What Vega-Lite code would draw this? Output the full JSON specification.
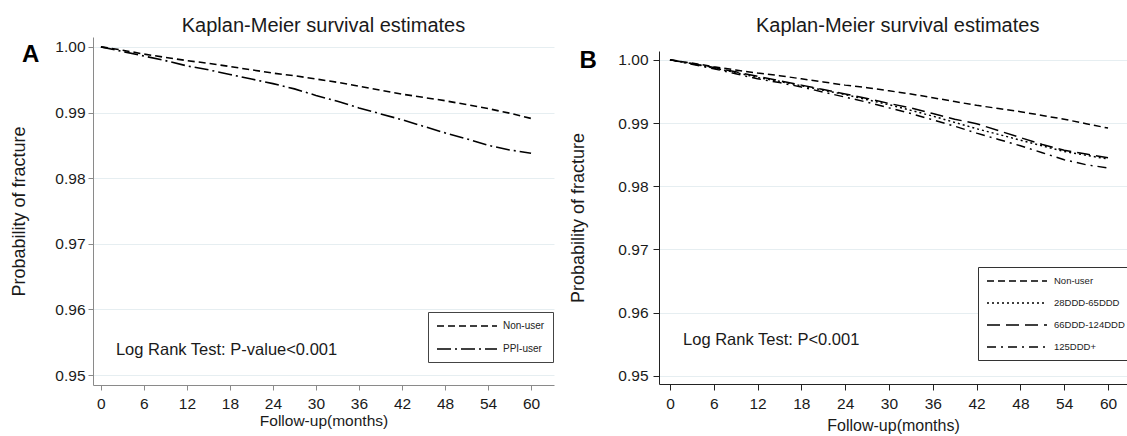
{
  "$schema": "https://vega.github.io/schema/vega-lite/v6.json",
  "padding": {"left": 10, "top": 16, "right": 0, "bottom": 0},
  "autosize": {"type": "pad"},
  "background": "white",
  "config": {
    "view": {"stroke": null},
    "font": "Liberation Sans",
    "axis": {"labelFont": "Liberation Sans", "titleFont": "Liberation Sans", "labelColor": "#1a1a1a", "titleColor": "#1a1a1a", "titleFontWeight": "normal"},
    "title": {"font": "Liberation Sans", "fontWeight": "normal", "color": "#1a1a1a", "fontSize": 20},
    "legend": {"labelFont": "Liberation Sans"}
  },
  "datasets": {
    "a": [
      {"month": 0, "p": 1.0000, "group": "Non-user"},
      {"month": 3, "p": 0.9995, "group": "Non-user"},
      {"month": 6, "p": 0.9989, "group": "Non-user"},
      {"month": 9, "p": 0.9984, "group": "Non-user"},
      {"month": 12, "p": 0.9979, "group": "Non-user"},
      {"month": 15, "p": 0.9975, "group": "Non-user"},
      {"month": 18, "p": 0.9970, "group": "Non-user"},
      {"month": 21, "p": 0.9965, "group": "Non-user"},
      {"month": 24, "p": 0.9960, "group": "Non-user"},
      {"month": 27, "p": 0.9956, "group": "Non-user"},
      {"month": 30, "p": 0.9951, "group": "Non-user"},
      {"month": 33, "p": 0.9946, "group": "Non-user"},
      {"month": 36, "p": 0.9940, "group": "Non-user"},
      {"month": 39, "p": 0.9934, "group": "Non-user"},
      {"month": 42, "p": 0.9928, "group": "Non-user"},
      {"month": 45, "p": 0.9923, "group": "Non-user"},
      {"month": 48, "p": 0.9918, "group": "Non-user"},
      {"month": 51, "p": 0.9912, "group": "Non-user"},
      {"month": 54, "p": 0.9906, "group": "Non-user"},
      {"month": 57, "p": 0.9899, "group": "Non-user"},
      {"month": 60, "p": 0.9891, "group": "Non-user"},
      {"month": 0, "p": 1.0000, "group": "PPI-user"},
      {"month": 3, "p": 0.9993, "group": "PPI-user"},
      {"month": 6, "p": 0.9986, "group": "PPI-user"},
      {"month": 9, "p": 0.9979, "group": "PPI-user"},
      {"month": 12, "p": 0.9971, "group": "PPI-user"},
      {"month": 15, "p": 0.9965, "group": "PPI-user"},
      {"month": 18, "p": 0.9958, "group": "PPI-user"},
      {"month": 21, "p": 0.9951, "group": "PPI-user"},
      {"month": 24, "p": 0.9944, "group": "PPI-user"},
      {"month": 27, "p": 0.9936, "group": "PPI-user"},
      {"month": 30, "p": 0.9926, "group": "PPI-user"},
      {"month": 33, "p": 0.9917, "group": "PPI-user"},
      {"month": 36, "p": 0.9907, "group": "PPI-user"},
      {"month": 39, "p": 0.9898, "group": "PPI-user"},
      {"month": 42, "p": 0.9889, "group": "PPI-user"},
      {"month": 45, "p": 0.9879, "group": "PPI-user"},
      {"month": 48, "p": 0.9869, "group": "PPI-user"},
      {"month": 51, "p": 0.9860, "group": "PPI-user"},
      {"month": 54, "p": 0.9850, "group": "PPI-user"},
      {"month": 57, "p": 0.9843, "group": "PPI-user"},
      {"month": 60, "p": 0.9838, "group": "PPI-user"}
    ],
    "b": [
      {"month": 0, "p": 1.0000, "group": "Non-user"},
      {"month": 3, "p": 0.9995, "group": "Non-user"},
      {"month": 6, "p": 0.9989, "group": "Non-user"},
      {"month": 9, "p": 0.9984, "group": "Non-user"},
      {"month": 12, "p": 0.9979, "group": "Non-user"},
      {"month": 15, "p": 0.9975, "group": "Non-user"},
      {"month": 18, "p": 0.9970, "group": "Non-user"},
      {"month": 21, "p": 0.9965, "group": "Non-user"},
      {"month": 24, "p": 0.9960, "group": "Non-user"},
      {"month": 27, "p": 0.9956, "group": "Non-user"},
      {"month": 30, "p": 0.9951, "group": "Non-user"},
      {"month": 33, "p": 0.9946, "group": "Non-user"},
      {"month": 36, "p": 0.9940, "group": "Non-user"},
      {"month": 39, "p": 0.9934, "group": "Non-user"},
      {"month": 42, "p": 0.9928, "group": "Non-user"},
      {"month": 45, "p": 0.9923, "group": "Non-user"},
      {"month": 48, "p": 0.9918, "group": "Non-user"},
      {"month": 51, "p": 0.9912, "group": "Non-user"},
      {"month": 54, "p": 0.9906, "group": "Non-user"},
      {"month": 57, "p": 0.9899, "group": "Non-user"},
      {"month": 60, "p": 0.9892, "group": "Non-user"},
      {"month": 0, "p": 1.0000, "group": "28DDD-65DDD"},
      {"month": 3, "p": 0.9994, "group": "28DDD-65DDD"},
      {"month": 6, "p": 0.9987, "group": "28DDD-65DDD"},
      {"month": 9, "p": 0.9980, "group": "28DDD-65DDD"},
      {"month": 12, "p": 0.9972, "group": "28DDD-65DDD"},
      {"month": 15, "p": 0.9966, "group": "28DDD-65DDD"},
      {"month": 18, "p": 0.9959, "group": "28DDD-65DDD"},
      {"month": 21, "p": 0.9952, "group": "28DDD-65DDD"},
      {"month": 24, "p": 0.9945, "group": "28DDD-65DDD"},
      {"month": 27, "p": 0.9937, "group": "28DDD-65DDD"},
      {"month": 30, "p": 0.9929, "group": "28DDD-65DDD"},
      {"month": 33, "p": 0.9920, "group": "28DDD-65DDD"},
      {"month": 36, "p": 0.9911, "group": "28DDD-65DDD"},
      {"month": 39, "p": 0.9901, "group": "28DDD-65DDD"},
      {"month": 42, "p": 0.9891, "group": "28DDD-65DDD"},
      {"month": 45, "p": 0.9882, "group": "28DDD-65DDD"},
      {"month": 48, "p": 0.9873, "group": "28DDD-65DDD"},
      {"month": 51, "p": 0.9864, "group": "28DDD-65DDD"},
      {"month": 54, "p": 0.9855, "group": "28DDD-65DDD"},
      {"month": 57, "p": 0.9849, "group": "28DDD-65DDD"},
      {"month": 60, "p": 0.9843, "group": "28DDD-65DDD"},
      {"month": 0, "p": 1.0000, "group": "66DDD-124DDD"},
      {"month": 3, "p": 0.9994, "group": "66DDD-124DDD"},
      {"month": 6, "p": 0.9988, "group": "66DDD-124DDD"},
      {"month": 9, "p": 0.9981, "group": "66DDD-124DDD"},
      {"month": 12, "p": 0.9974, "group": "66DDD-124DDD"},
      {"month": 15, "p": 0.9967, "group": "66DDD-124DDD"},
      {"month": 18, "p": 0.9960, "group": "66DDD-124DDD"},
      {"month": 21, "p": 0.9953, "group": "66DDD-124DDD"},
      {"month": 24, "p": 0.9946, "group": "66DDD-124DDD"},
      {"month": 27, "p": 0.9939, "group": "66DDD-124DDD"},
      {"month": 30, "p": 0.9931, "group": "66DDD-124DDD"},
      {"month": 33, "p": 0.9924, "group": "66DDD-124DDD"},
      {"month": 36, "p": 0.9915, "group": "66DDD-124DDD"},
      {"month": 39, "p": 0.9906, "group": "66DDD-124DDD"},
      {"month": 42, "p": 0.9899, "group": "66DDD-124DDD"},
      {"month": 45, "p": 0.9888, "group": "66DDD-124DDD"},
      {"month": 48, "p": 0.9877, "group": "66DDD-124DDD"},
      {"month": 51, "p": 0.9866, "group": "66DDD-124DDD"},
      {"month": 54, "p": 0.9857, "group": "66DDD-124DDD"},
      {"month": 57, "p": 0.9851, "group": "66DDD-124DDD"},
      {"month": 60, "p": 0.9845, "group": "66DDD-124DDD"},
      {"month": 0, "p": 1.0000, "group": "125DDD+"},
      {"month": 3, "p": 0.9993, "group": "125DDD+"},
      {"month": 6, "p": 0.9986, "group": "125DDD+"},
      {"month": 9, "p": 0.9978, "group": "125DDD+"},
      {"month": 12, "p": 0.9970, "group": "125DDD+"},
      {"month": 15, "p": 0.9964, "group": "125DDD+"},
      {"month": 18, "p": 0.9957, "group": "125DDD+"},
      {"month": 21, "p": 0.9949, "group": "125DDD+"},
      {"month": 24, "p": 0.9941, "group": "125DDD+"},
      {"month": 27, "p": 0.9933, "group": "125DDD+"},
      {"month": 30, "p": 0.9924, "group": "125DDD+"},
      {"month": 33, "p": 0.9915, "group": "125DDD+"},
      {"month": 36, "p": 0.9905, "group": "125DDD+"},
      {"month": 39, "p": 0.9895, "group": "125DDD+"},
      {"month": 42, "p": 0.9884, "group": "125DDD+"},
      {"month": 45, "p": 0.9874, "group": "125DDD+"},
      {"month": 48, "p": 0.9864, "group": "125DDD+"},
      {"month": 51, "p": 0.9853, "group": "125DDD+"},
      {"month": 54, "p": 0.9842, "group": "125DDD+"},
      {"month": 57, "p": 0.9834, "group": "125DDD+"},
      {"month": 60, "p": 0.9829, "group": "125DDD+"}
    ]
  },
  "spacing": 15,
  "resolve": {"scale": {"strokeDash": "independent", "x": "independent", "y": "independent"}, "legend": {"strokeDash": "independent"}},
  "hconcat": [
    {
      "width": 461,
      "height": 348,
      "title": {"text": "Kaplan-Meier survival estimates", "offset": 1, "anchor": "middle"},
      "layer": [
        {
          "data": {"name": "a"},
          "mark": {"type": "line", "color": "black", "strokeWidth": 1.6},
          "encoding": {
            "x": {"field": "month", "type": "quantitative",
              "scale": {"domain": [-1.1, 63.2], "nice": false, "zero": false},
              "axis": {"values": [0, 6, 12, 18, 24, 30, 36, 42, 48, 54, 60], "title": "Follow-up(months)", "grid": false,
                "domainColor": "#8a8a8a", "tickColor": "#8a8a8a", "tickSize": 5, "labelFontSize": 15.5, "labelPadding": 6,
                "titleFontSize": 15.5, "titlePadding": 2}},
            "y": {"field": "p", "type": "quantitative",
              "scale": {"domain": [0.9485, 1.0015], "nice": false, "zero": false},
              "axis": {"values": [0.95, 0.96, 0.97, 0.98, 0.99, 1.0], "format": ".2f", "title": "Probability of fracture",
                "grid": true, "gridColor": "#e6eef1", "gridWidth": 1, "domainColor": "#8a8a8a", "tickColor": "#8a8a8a", "tickSize": 5,
                "labelFontSize": 15.5, "labelPadding": 3, "titleFontSize": 18, "titlePadding": 26}},
            "strokeDash": {"field": "group", "type": "nominal",
              "scale": {"domain": ["Non-user", "PPI-user"], "range": [[7, 4], [14, 4, 2, 4]]},
              "legend": {"title": null, "orient": "none", "legendX": 335, "legendY": 275, "direction": "vertical",
                "symbolType": "M-1,0H11", "symbolSize": 100, "symbolStrokeWidth": 1.6, "symbolStrokeColor": "black",
                "labelFontSize": 10, "labelColor": "#222", "labelOffset": 55, "padding": 8, "rowPadding": 12,
                "strokeColor": "#444", "fillColor": "white"}}
          }
        },
        {
          "data": {"values": [{}]},
          "mark": {"type": "text", "align": "left", "baseline": "middle", "fontSize": 16.5, "color": "#1a1a1a", "text": "Log Rank Test: P-value<0.001"},
          "encoding": {"x": {"datum": 2.1, "type": "quantitative"}, "y": {"datum": 0.9538, "type": "quantitative"}}
        },
        {
          "data": {"values": [{}]},
          "mark": {"type": "text", "align": "center", "baseline": "middle", "fontSize": 24, "fontWeight": "bold", "color": "black", "text": "A"},
          "encoding": {"x": {"datum": -9.8, "type": "quantitative"}, "y": {"datum": 0.9988, "type": "quantitative"}}
        }
      ]
    },
    {
      "title": {"text": "Kaplan-Meier survival estimates", "offset": 1, "anchor": "middle", "dx": 46},
      "spacing": 0,
      "vconcat": [
        {
          "width": 468,
          "height": 12,
          "data": {"values": []},
          "mark": {"type": "rule", "opacity": 0},
          "encoding": {}
        },
        {
          "width": 468,
          "height": 333,
          "layer": [
            {
              "data": {"name": "b"},
              "mark": {"type": "line", "color": "black", "strokeWidth": 1.5},
              "encoding": {
                "x": {"field": "month", "type": "quantitative",
                  "scale": {"domain": [-1.5, 62.6], "nice": false, "zero": false},
                  "axis": {"values": [0, 6, 12, 18, 24, 30, 36, 42, 48, 54, 60], "title": "Follow-up(months)", "grid": false,
                    "domainColor": "#222", "tickColor": "#222", "tickSize": 6, "labelFontSize": 15.5, "labelPadding": 6,
                    "titleFontSize": 16, "titlePadding": 6}},
                "y": {"field": "p", "type": "quantitative",
                  "scale": {"domain": [0.9487, 1.0014], "nice": false, "zero": false},
                  "axis": {"values": [0.95, 0.96, 0.97, 0.98, 0.99, 1.0], "format": ".2f", "title": "Probability of fracture",
                    "grid": true, "gridColor": "#e6eef1", "gridWidth": 1, "domainColor": "#222", "tickColor": "#222", "tickSize": 6,
                    "labelFontSize": 15.5, "labelPadding": 5, "titleFontSize": 18, "titlePadding": 30}},
                "strokeDash": {"field": "group", "type": "nominal",
                  "scale": {"domain": ["Non-user", "28DDD-65DDD", "66DDD-124DDD", "125DDD+"], "range": [[7, 4], [2, 3], [13, 6], [9, 5, 2, 5]]},
                  "legend": {"title": null, "orient": "none", "legendX": 319, "legendY": 230, "direction": "vertical",
                    "symbolType": "M-1,0H11", "symbolSize": 100, "symbolStrokeWidth": 1.5, "symbolStrokeColor": "black",
                    "labelFontSize": 9.5, "labelColor": "#222", "labelOffset": 56, "padding": 8, "rowPadding": 11,
                    "strokeColor": "#333", "fillColor": "white"}}
              }
            },
            {
              "data": {"values": [{}]},
              "mark": {"type": "text", "align": "left", "baseline": "middle", "fontSize": 16.5, "color": "#1a1a1a", "text": "Log Rank Test: P<0.001"},
              "encoding": {"x": {"datum": 1.8, "type": "quantitative"}, "y": {"datum": 0.9557, "type": "quantitative"}}
            },
            {
              "data": {"values": [{}]},
              "mark": {"type": "text", "align": "center", "baseline": "middle", "fontSize": 24, "fontWeight": "bold", "color": "black", "text": "B"},
              "encoding": {"x": {"datum": -11.2, "type": "quantitative"}, "y": {"datum": 0.9998, "type": "quantitative"}}
            }
          ]
        }
      ]
    }
  ]
}
